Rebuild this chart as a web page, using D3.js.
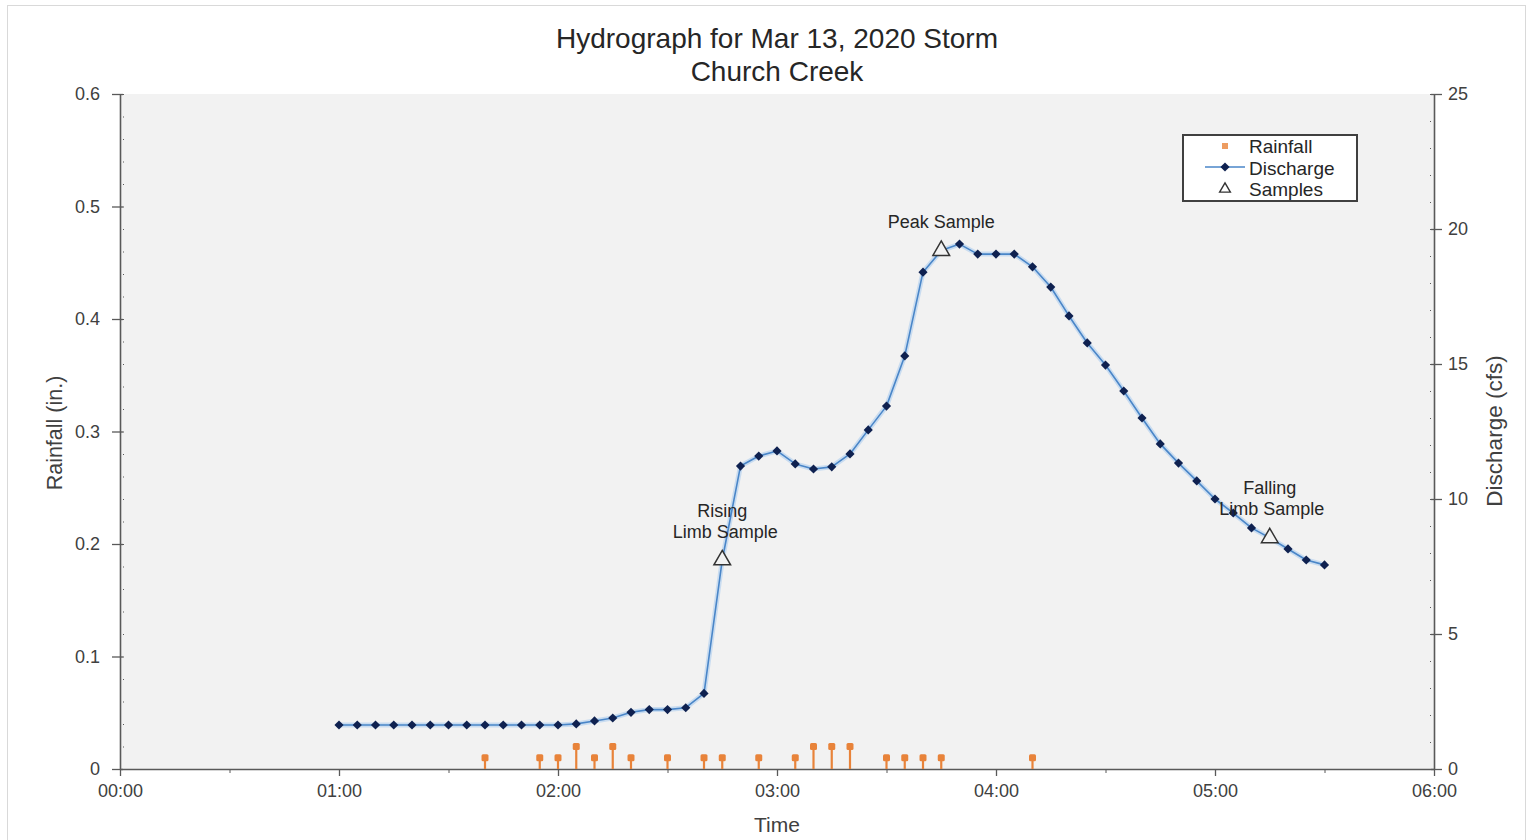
<!DOCTYPE html>
<html>
<head>
<meta charset="utf-8">
<script src="https://cdn.jsdelivr.net/npm/d3@7"></script>
<style>
  html, body { margin: 0; padding: 0; background: #ffffff; }
  svg { display: block; font-family: "Liberation Sans", Arial, sans-serif; }
</style>
</head>
<body>
<svg id="chart" width="1532" height="840"></svg>
<script>
// Discharge record, 5-minute readings (cfs)
const dischargeTimes = [
  "01:00","01:05","01:10","01:15","01:20","01:25","01:30","01:35","01:40","01:45","01:50","01:55",
  "02:00","02:05","02:10","02:15","02:20","02:25","02:30","02:35","02:40","02:45","02:50","02:55",
  "03:00","03:05","03:10","03:15","03:20","03:25","03:30","03:35","03:40","03:45","03:50","03:55",
  "04:00","04:05","04:10","04:15","04:20","04:25","04:30","04:35","04:40","04:45","04:50","04:55",
  "05:00","05:05","05:10","05:15","05:20","05:25","05:30"
];
const dischargeValues = [
  1.63, 1.63, 1.63, 1.63, 1.63, 1.63, 1.63, 1.63, 1.63, 1.63, 1.63, 1.63,
  1.63, 1.67, 1.78, 1.89, 2.10, 2.20, 2.20, 2.27, 2.80, 7.74, 11.22, 11.59,
  11.78, 11.30, 11.11, 11.19, 11.67, 12.56, 13.44, 15.30, 18.40, 19.20, 19.44, 19.07,
  19.07, 19.07, 18.60, 17.85, 16.78, 15.78, 14.96, 14.00, 13.00, 12.04, 11.33, 10.67,
  10.00, 9.48, 8.93, 8.56, 8.15, 7.74, 7.56
];

// Rainfall increments (in.)
const rainTimes = [
  "01:40","01:55","02:00","02:05","02:10","02:15","02:20","02:30","02:40","02:45",
  "02:55","03:05","03:10","03:15","03:20","03:30","03:35","03:40","03:45","04:10"
];
const rainValues = [
  0.01, 0.01, 0.01, 0.02, 0.01, 0.02, 0.01, 0.01, 0.01, 0.01,
  0.01, 0.01, 0.02, 0.02, 0.02, 0.01, 0.01, 0.01, 0.01, 0.01
];

// Water-quality samples
const sampleTimes = ["02:45", "03:45", "05:15"];
const sampleValues = [7.74, 19.2, 8.56];
const sampleLabels = [["Rising", "Limb Sample"], ["Peak Sample"], ["Falling", "Limb Sample"]];

// Axis ranges and ticks
const timeDomain = ["00:00", "06:00"];
const rainDomain = [0, 0.6];
const rainTicks = [0, 0.1, 0.2, 0.3, 0.4, 0.5, 0.6];
const flowDomain = [0, 25];
const flowTicks = [0, 5, 10, 15, 20, 25];

const titleLines = ["Hydrograph for Mar 13, 2020 Storm", "Church Creek"];

const W = 1532, H = 840;
const margin = { top: 94, right: 98, bottom: 71, left: 120 };
const iw = W - margin.left - margin.right;
const ih = H - margin.top - margin.bottom;

const parseT = s => { const [h, m] = s.split(":").map(Number); return new Date(Date.UTC(2020, 2, 13, h, m)); };
const fmt = d3.utcFormat("%H:%M");

const svg = d3.select("#chart");

// outer frame
svg.append("rect").attr("x", 7.5).attr("y", 5.5).attr("width", W - 14).attr("height", H - 5)
  .attr("fill", "#ffffff").attr("stroke", "#d9d9d9").attr("stroke-width", 1);

const g = svg.append("g").attr("transform", `translate(${margin.left},${margin.top})`);

const x = d3.scaleUtc().domain(timeDomain.map(parseT)).range([0, iw]);
const yRain = d3.scaleLinear().domain(rainDomain).range([ih, 0]);
const yFlow = d3.scaleLinear().domain(flowDomain).range([ih, 0]);

// plot area
g.append("rect").attr("width", iw).attr("height", ih).attr("fill", "#f2f2f2");

const axisColor = "#595959";
const textColor = "#404040";

// minor ticks
g.append("g").attr("transform", `translate(0,${ih})`)
  .call(d3.axisBottom(x).ticks(d3.utcMinute.every(30)).tickSize(4).tickFormat(""))
  .call(a => a.select(".domain").remove())
  .selectAll("line").attr("stroke", axisColor);
g.append("g")
  .call(d3.axisLeft(yRain).ticks(30).tickSizeInner(-4).tickSizeOuter(0).tickFormat(""))
  .call(a => a.select(".domain").remove())
  .selectAll("line").attr("stroke", axisColor).attr("x1", 3);
g.append("g").attr("transform", `translate(${iw},0)`)
  .call(d3.axisRight(yFlow).ticks(25).tickSizeInner(-4).tickSizeOuter(0).tickFormat(""))
  .call(a => a.select(".domain").remove())
  .selectAll("line").attr("stroke", axisColor).attr("x1", -3);

// major axes
const xAxis = g.append("g").attr("transform", `translate(0,${ih})`)
  .call(d3.axisBottom(x).ticks(d3.utcHour.every(1)).tickFormat(fmt).tickSize(7).tickSizeOuter(0).tickPadding(8));
const yAxisL = g.append("g")
  .call(d3.axisLeft(yRain).tickValues(rainTicks).tickFormat(d => d === 0 ? "0" : d3.format(".1f")(d)).tickSize(8).tickSizeOuter(0).tickPadding(12));
const yAxisR = g.append("g").attr("transform", `translate(${iw},0)`)
  .call(d3.axisRight(yFlow).tickValues(flowTicks).tickFormat(d3.format("d")).tickSize(8).tickSizeOuter(0).tickPadding(6));
[xAxis, yAxisL, yAxisR].forEach(a => {
  a.select(".domain").attr("stroke", axisColor).attr("stroke-width", 1.6);
  a.selectAll(".tick line").attr("stroke", axisColor).attr("stroke-width", 1.3);
  a.selectAll(".tick text").attr("fill", textColor).attr("font-size", 18)
    .attr("font-family", "'Liberation Sans', Arial, sans-serif");
});
yAxisL.selectAll(".tick line").attr("x2", -8).attr("x1", 3);
yAxisR.selectAll(".tick line").attr("x1", -3).attr("x2", 8);

// rainfall stems and markers
const rainColor = "#e8833a";
const rain = g.append("g");
rainTimes.forEach((t, i) => {
  const cx = x(parseT(t)), cy = yRain(rainValues[i]);
  rain.append("line").attr("x1", cx).attr("x2", cx).attr("y1", ih).attr("y2", cy)
    .attr("stroke", rainColor).attr("stroke-width", 2.2);
  rain.append("rect").attr("x", cx - 3.5).attr("y", cy - 3.5).attr("width", 7).attr("height", 7)
    .attr("rx", 1.5).attr("fill", rainColor);
});

// discharge line
const flowPts = dischargeTimes.map((t, i) => [x(parseT(t)), yFlow(dischargeValues[i])]);
g.append("path").datum(flowPts).attr("d", d3.line())
  .attr("fill", "none").attr("stroke", "#c9dcf0").attr("stroke-width", 5).attr("stroke-linejoin", "round");
g.append("path").datum(flowPts).attr("d", d3.line())
  .attr("fill", "none").attr("stroke", "#4a86c8").attr("stroke-width", 1.6).attr("stroke-linejoin", "round");
// square markers turned 45 degrees
const diamond = d3.symbol().type(d3.symbolSquare).size(42);
g.append("g").selectAll("path").data(flowPts).join("path")
  .attr("transform", d => `translate(${d[0]},${d[1]}) rotate(45)`).attr("d", diamond)
  .attr("fill", "#0f2150");

// samples
const tri = d3.symbol().type(d3.symbolTriangle).size(120);
sampleTimes.forEach((t, i) => {
  const sx = x(parseT(t)), sy = yFlow(sampleValues[i]);
  g.append("path").attr("transform", `translate(${sx},${sy})`).attr("d", tri)
    .attr("fill", "#f2f2f2").attr("stroke", "#333333").attr("stroke-width", 1.5);
});

// sample annotations (offsets from each triangle to the first baseline)
const annot = g.append("g").attr("font-size", 18).attr("fill", "#262626").attr("text-anchor", "middle");
const labelOffsets = [[0, -43.5, 3], [0, -22.5, 0], [0, -43.5, 2]];
sampleTimes.forEach((t, i) => {
  const sx = x(parseT(t)) + labelOffsets[i][0], sy = yFlow(sampleValues[i]) + labelOffsets[i][1];
  sampleLabels[i].forEach((ln, j) => {
    annot.append("text").attr("x", sx + (j === 1 ? labelOffsets[i][2] : 0)).attr("y", sy + j * 21)
      .text(ln);
  });
});

// titles
svg.append("text").attr("x", 777).attr("y", 48).attr("text-anchor", "middle")
  .attr("font-size", 28).attr("fill", "#262626").text(titleLines[0]);
svg.append("text").attr("x", 777).attr("y", 81).attr("text-anchor", "middle")
  .attr("font-size", 28).attr("fill", "#262626").text(titleLines[1]);

// axis titles
svg.append("text").attr("x", margin.left + iw / 2).attr("y", 832).attr("text-anchor", "middle")
  .attr("font-size", 21).attr("fill", textColor).text("Time");
svg.append("text").attr("transform", `translate(62,433) rotate(-90)`).attr("text-anchor", "middle")
  .attr("font-size", 21.5).attr("fill", textColor).text("Rainfall (in.)");
svg.append("text").attr("transform", `translate(1502,431) rotate(-90)`).attr("text-anchor", "middle")
  .attr("font-size", 22.5).attr("fill", textColor).text("Discharge (cfs)");

// legend
const lg = svg.append("g").attr("transform", "translate(1183,135)");
lg.append("rect").attr("width", 174).attr("height", 66).attr("fill", "#ffffff")
  .attr("stroke", "#404040").attr("stroke-width", 2);
const lgx = 42;
lg.append("rect").attr("x", lgx - 3).attr("y", 8).attr("width", 6).attr("height", 6).attr("fill", rainColor).attr("opacity", 0.8);
lg.append("line").attr("x1", lgx - 20).attr("x2", lgx + 20).attr("y1", 32).attr("y2", 32)
  .attr("stroke", "#4a86c8").attr("stroke-width", 1.6);
lg.append("path").attr("transform", `translate(${lgx},32) rotate(45)`).attr("d", diamond).attr("fill", "#0f2150");
lg.append("path").attr("transform", `translate(${lgx},54)`).attr("d", d3.symbol().type(d3.symbolTriangle).size(50))
  .attr("fill", "none").attr("stroke", "#333333").attr("stroke-width", 1.4);
const lgText = ["Rainfall", "Discharge", "Samples"];
lgText.forEach((s, i) => {
  lg.append("text").attr("x", 66).attr("y", 18 + i * 21.5).attr("font-size", 19).attr("fill", "#262626").text(s);
});
</script>
</body>
</html>
